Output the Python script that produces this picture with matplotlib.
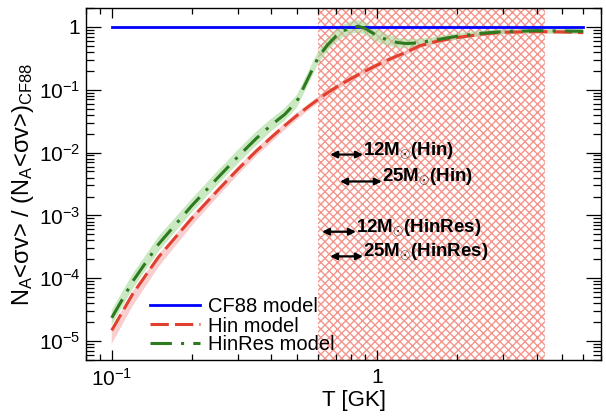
import numpy as np
import matplotlib
matplotlib.use("Agg")
import matplotlib.pyplot as plt
from matplotlib.ticker import LogLocator, FuncFormatter, NullFormatter

plt.rcParams['font.family'] = ['Liberation Sans', 'DejaVu Sans']
plt.rcParams['mathtext.fontset'] = 'custom'
plt.rcParams['mathtext.rm'] = 'Liberation Sans'
plt.rcParams['mathtext.it'] = 'Liberation Sans:italic'
plt.rcParams['mathtext.bf'] = 'Liberation Sans:bold'
plt.rcParams['hatch.linewidth'] = 1.0

# ---------------- data ----------------
T = [0.1, 0.12, 0.15, 0.2, 0.25, 0.3, 0.35, 0.4, 0.45, 0.5, 0.55, 0.6, 0.65,
     0.7, 0.75, 0.8, 0.85, 0.9, 1.0, 1.1, 1.2, 1.3, 1.45, 1.7, 2.0, 2.5,
     3.0, 4.0, 5.0, 6.0]

hin_log10 = [-4.83, -4.25, -3.665, -3.05, -2.61, -2.26, -1.98, -1.757, -1.568,
             -1.407, -1.272, -1.154, -1.05, -0.964, -0.888, -0.821, -0.761,
             -0.706, -0.609, -0.527, -0.457, -0.397, -0.30, -0.225, -0.17,
             -0.115, -0.085, -0.075, -0.08, -0.09]
hin_band_lo = [0.22, 0.19, 0.16, 0.12, 0.10, 0.09, 0.08, 0.08, 0.07, 0.07,
               0.06, 0.06, 0.06, 0.05, 0.05, 0.05, 0.05, 0.05, 0.05, 0.05,
               0.04, 0.04, 0.04, 0.04, 0.03, 0.03, 0.03, 0.03, 0.03, 0.03]
hin_band_hi = [0.04, 0.04, 0.04, 0.04, 0.04, 0.04, 0.04, 0.04, 0.04, 0.04,
               0.04, 0.04, 0.04, 0.04, 0.04, 0.04, 0.04, 0.04, 0.04, 0.04,
               0.03, 0.03, 0.03, 0.03, 0.03, 0.03, 0.03, 0.03, 0.03, 0.03]

hinres_log10 = [-4.63, -4.05, -3.46, -2.85, -2.41, -2.06, -1.78, -1.56, -1.39,
                -1.18, -0.82, -0.49, -0.29, -0.15, -0.06, -0.01, 0.01, -0.02,
                -0.14, -0.21, -0.25, -0.265, -0.25, -0.20, -0.15, -0.10,
                -0.075, -0.06, -0.065, -0.07]
hinres_band = [0.12, 0.12, 0.12, 0.11, 0.11, 0.11, 0.11, 0.10, 0.10, 0.10,
               0.10, 0.10, 0.10, 0.10, 0.10, 0.10, 0.10, 0.10, 0.10, 0.09,
               0.08, 0.07, 0.06, 0.05, 0.05, 0.04, 0.04, 0.04, 0.04, 0.04]

T_cf88 = [0.1, 6.0]
cf88_ratio = [1.0, 1.0]

gamow_window = [0.6, 4.3]

arrow_labels = [r"12M$_{\odot}$(Hin)", r"25M$_{\odot}$(Hin)",
                r"12M$_{\odot}$(HinRes)", r"25M$_{\odot}$(HinRes)"]
arrow_T_lo = [0.666, 0.726, 0.621, 0.666]
arrow_T_hi = [0.886, 1.044, 0.834, 0.886]
arrow_y = [9.3e-3, 3.47e-3, 5.5e-4, 2.23e-4]

# ---------------- plot ----------------
fig = plt.figure(figsize=(6.06, 4.19), dpi=100)
ax = fig.add_axes([86/606, 1-360/419, (601-86)/606, (360-8)/419])

T_a = np.array(T)
hin = 10**np.array(hin_log10)
hinres = 10**np.array(hinres_log10)

ax.axvspan(gamow_window[0], gamow_window[1], facecolor='none',
           edgecolor='#f4958c', hatch='xxxx', lw=0, zorder=0.5)

ax.fill_between(T_a, hin * 10**(-np.array(hin_band_lo)),
                hin * 10**(np.array(hin_band_hi)),
                facecolor='#f4a7a7', alpha=0.55, lw=0, zorder=1)
ax.fill_between(T_a, hinres * 10**(-np.array(hinres_band)),
                hinres * 10**(np.array(hinres_band)),
                facecolor='#9fd893', alpha=0.55, lw=0, zorder=1.1)

ax.plot(T_cf88, cf88_ratio, color='#0000ff', lw=2.0, zorder=3,
        label='CF88 model')
ax.plot(T_a, hin, color='#e2402f', lw=2.2, ls=(0, (6, 2)), zorder=3,
        label='Hin model')
ax.plot(T_a, hinres, color='#2d7a1f', lw=2.2, ls=(0, (7, 3, 1, 3)),
        zorder=3.1, label='HinRes model')

for lab, t0, t1, yy in zip(arrow_labels, arrow_T_lo, arrow_T_hi, arrow_y):
    ax.annotate('', xy=(t1, yy), xytext=(t0, yy),
                arrowprops=dict(arrowstyle='<|-|>', color='black', lw=1.6,
                                mutation_scale=10, shrinkA=0, shrinkB=0),
                zorder=4)
    ax.text(t1, yy, lab, fontsize=13.5, fontweight='bold', ha='left',
            va='baseline', zorder=4)

ax.set_xscale('log')
ax.set_yscale('log')
ax.set_xlim(0.08, 7)
ax.set_ylim(5e-6, 2)


def fmt(v, pos):
    e = int(round(np.log10(v)))
    if e == 0:
        return '1'
    return r'$10^{%d}$' % e


ax.xaxis.set_major_locator(LogLocator(base=10))
ax.xaxis.set_minor_locator(LogLocator(base=10, subs=np.arange(2, 10)))
ax.yaxis.set_major_locator(LogLocator(base=10))
ax.yaxis.set_minor_locator(LogLocator(base=10, subs=np.arange(2, 10), numticks=20))
ax.xaxis.set_major_formatter(FuncFormatter(fmt))
ax.yaxis.set_major_formatter(FuncFormatter(fmt))
ax.xaxis.set_minor_formatter(NullFormatter())
ax.yaxis.set_minor_formatter(NullFormatter())

ax.tick_params(which='both', direction='in', top=True, right=True,
               labelsize=15, width=0.9)
ax.tick_params(axis='x', which='major', length=7, pad=6)
ax.tick_params(axis='x', which='minor', length=4.5)
ax.tick_params(axis='y', which='major', length=11, pad=4)
ax.tick_params(axis='y', which='minor', length=6)
for s in ax.spines.values():
    s.set_linewidth(1.0)

ax.set_xlabel('T [GK]', fontsize=16, labelpad=2)
ax.xaxis.set_label_coords(0.52, -0.085)
ax.set_ylabel(r'N$_\mathrm{A}$<σv> / (N$_\mathrm{A}$<σv>)$_\mathrm{CF88}$',
              fontsize=17, labelpad=2)

leg = ax.legend(loc='center left', bbox_to_anchor=((150-86)/515, (360-326)/352),
                frameon=False, fontsize=14.5, handlelength=2.5,
                handletextpad=0.4, labelspacing=0.0, borderpad=0,
                borderaxespad=0)

fig.savefig('out.png', dpi=100)
